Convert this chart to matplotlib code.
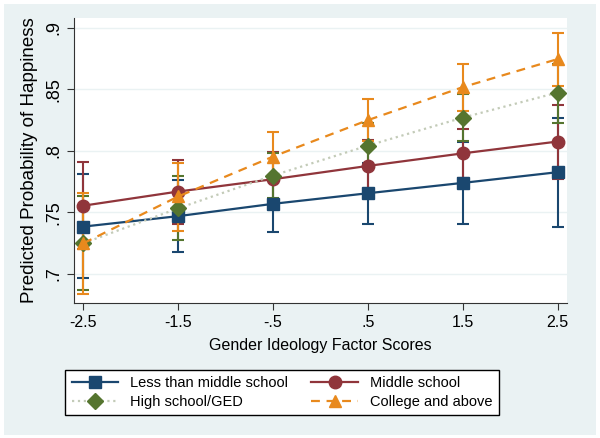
import matplotlib.pyplot as plt
from matplotlib.patches import Rectangle
import numpy as np

plt.rcParams['font.family'] = ['Liberation Sans', 'DejaVu Sans']

# Gender ideology factor score positions
x = [-2.5, -1.5, -0.5, 0.5, 1.5, 2.5]
xticklabels = ['-2.5', '-1.5', '-.5', '.5', '1.5', '2.5']
yticks = [0.7, 0.75, 0.8, 0.85, 0.9]
yticklabels = ['.7', '.75', '.8', '.85', '.9']

labels = ['Less than middle school', 'Middle school',
          'High school/GED', 'College and above']

# predicted probabilities and 95% CI bounds
less_mid = [0.7385, 0.747, 0.757, 0.7656, 0.774, 0.7827]
less_mid_lo = [0.6965, 0.718, 0.734, 0.741, 0.741, 0.738]
less_mid_hi = [0.781, 0.776, 0.780, 0.790, 0.807, 0.827]

mid = [0.7555, 0.767, 0.777, 0.7878, 0.798, 0.8076]
mid_lo = [0.720, 0.741, 0.755, 0.767, 0.778, 0.777]
mid_hi = [0.791, 0.793, 0.799, 0.809, 0.818, 0.837]

high = [0.725, 0.7534, 0.780, 0.8043, 0.827, 0.8474]
high_lo = [0.687, 0.7276, 0.762, 0.786, 0.8084, 0.823]
high_hi = [0.763, 0.780, 0.798, 0.823, 0.846, 0.871]

college = [0.725, 0.763, 0.7954, 0.825, 0.8518, 0.8746]
college_lo = [0.684, 0.735, 0.776, 0.808, 0.8328, 0.853]
college_hi = [0.7656, 0.790, 0.815, 0.842, 0.8705, 0.8957]

bg = '#eaf2f3'
navy = '#1a476f'
maroon = '#90353b'
green = '#55752f'
orange = '#e8891d'

fig = plt.figure(figsize=(6, 4.38), dpi=100, facecolor='white')
# light graph region with a thin white margin
fig.patches.append(Rectangle((4 / 600, 3 / 438), 592 / 600, 431 / 438,
                             transform=fig.transFigure, facecolor=bg,
                             edgecolor='none', zorder=-10))
ax = fig.add_axes([0.1233, 0.3082, 0.8217, 0.6507])
ax.set_facecolor('white')


def series(y, lo, hi, *, color, lcolor, ls, marker, ms, label):
    y = np.array(y)
    err = [y - np.array(lo), np.array(hi) - y]
    ax.errorbar(x, y, yerr=err, fmt='none', ecolor=color, elinewidth=1.5,
                capsize=4, capthick=1.5, zorder=2)
    line, = ax.plot(x, y, color=lcolor, ls=ls, lw=1.6, marker=marker, ms=ms,
                    mfc=color, mec=color, label=label, zorder=3)
    return line


h1 = series(less_mid, less_mid_lo, less_mid_hi, color=navy, lcolor=navy,
            ls='-', marker='s', ms=8.5, label=labels[0])
h2 = series(mid, mid_lo, mid_hi, color=maroon, lcolor=maroon, ls='-',
            marker='o', ms=9, label=labels[1])
h3 = series(high, high_lo, high_hi, color=green, lcolor='#c3cbb8', ls=':',
            marker='D', ms=8.5, label=labels[2])
h4 = series(college, college_lo, college_hi, color=orange, lcolor=orange,
            ls=(0, (4, 3)), marker='^', ms=9, label=labels[3])

ax.set_xlim(-2.6, 2.6)
ax.set_ylim(0.6764, 0.908)
ax.set_xticks(x)
ax.set_xticklabels(xticklabels, fontsize=11.5)
ax.set_yticks(yticks)
ax.set_yticklabels(yticklabels, fontsize=13, rotation=90, va='center')
ax.tick_params(direction='out', length=5, color='#333333')
ax.tick_params(axis='y', pad=3)
ax.grid(True, axis='y', color=bg, lw=1)
ax.set_axisbelow(True)
for side in ['top', 'right']:
    ax.spines[side].set_visible(False)
for side in ['left', 'bottom']:
    ax.spines[side].set_color('#333333')

ax.set_xlabel('Gender Ideology Factor Scores', fontsize=11.5, labelpad=6)
ax.set_ylabel('Predicted Probability of Happiness', fontsize=13.5, labelpad=6)

# row-major order like the original legend
leg = fig.legend([h1, h3, h2, h4], [labels[0], labels[2], labels[1], labels[3]],
                 loc='center', bbox_to_anchor=(282 / 600, 1 - 392.5 / 438),
                 ncol=2, fontsize=10.5, frameon=True, fancybox=False,
                 edgecolor='black', handlelength=3.2, columnspacing=1.6,
                 borderpad=0.45, labelspacing=0.3, handletextpad=0.8)
leg.get_frame().set_linewidth(1)
leg.get_frame().set_alpha(1)

fig.savefig('out.png', dpi=100, facecolor='white')
